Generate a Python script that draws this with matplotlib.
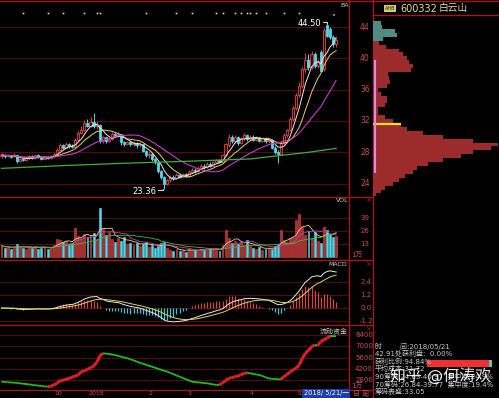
import numpy as np
import pandas as pd
import matplotlib
matplotlib.use("Agg")
import matplotlib.pyplot as plt
from matplotlib.collections import LineCollection
from matplotlib.transforms import blended_transform_factory as blend

plt.rcParams['font.family'] = ['DejaVu Sans', 'Noto Sans CJK SC']

# ---------------- data ----------------
open_ = [27.5, 27.7, 27.5, 27.6, 27.5, 27.6, 26.9, 27.1, 27.0, 27.3,
         27.5, 27.3, 27.6, 27.4, 27.2, 27.4, 27.3, 27.5, 27.8, 28.3,
         28.9, 28.6, 29.0, 28.8, 28.7, 29.6, 30.5, 30.9, 31.8, 31.4,
         31.9, 31.3, 31.5, 29.4, 29.9, 29.5, 29.7, 30.4, 30.1, 30.3,
         29.3, 29.1, 29.3, 29.0, 29.2, 28.9, 29.0, 28.2, 27.6, 27.8,
         27.1, 26.8, 25.6, 24.9, 23.9, 24.4, 24.9, 24.7, 25.1, 24.9,
         25.2, 25.0, 25.5, 25.8, 25.6, 26.0, 26.3, 26.1, 26.5, 26.3,
         26.7, 27.0, 26.8, 27.6, 28.9, 30.0, 29.4, 29.9, 29.2, 29.8,
         30.2, 29.7, 30.0, 29.6, 29.9, 29.5, 29.8, 29.4, 29.6, 28.6,
         28.0, 27.8, 29.2, 30.2, 30.8, 32.2, 33.6, 35.3, 36.5, 38.6,
         39.8, 38.9, 40.6, 39.0, 40.8, 38.6, 44.2, 43.8, 42.7, 41.8]
close = [27.7, 27.5, 27.6, 27.4, 27.7, 26.9, 27.2, 27.0, 27.3, 27.5,
         27.3, 27.6, 27.4, 27.2, 27.4, 27.3, 27.5, 27.8, 28.3, 28.9,
         28.6, 29.0, 28.8, 28.7, 29.6, 30.5, 30.9, 31.8, 31.4, 31.9,
         31.3, 31.6, 29.4, 29.9, 29.5, 29.7, 30.4, 30.1, 30.4, 29.3,
         29.1, 29.3, 29.0, 29.2, 28.9, 29.1, 28.2, 27.6, 27.8, 27.1,
         26.8, 25.6, 24.9, 23.9, 24.4, 24.9, 24.7, 25.1, 24.9, 25.2,
         25.0, 25.5, 25.8, 25.6, 26.0, 26.3, 26.1, 26.5, 26.3, 26.7,
         27.0, 26.8, 27.6, 29.0, 30.0, 29.4, 29.9, 29.2, 29.8, 30.2,
         29.7, 30.0, 29.6, 29.9, 29.5, 29.8, 29.4, 29.6, 28.6, 28.0,
         27.8, 29.2, 30.2, 30.8, 32.2, 33.6, 35.3, 36.5, 38.6, 39.8,
         38.9, 40.6, 39.0, 39.6, 38.4, 43.6, 42.9, 42.7, 41.8, 42.3]
high = [27.9, 27.8, 27.8, 27.7, 27.9, 27.6, 27.3, 27.3, 27.4, 27.6,
        27.6, 27.7, 27.8, 27.5, 27.5, 27.5, 27.6, 27.9, 28.5, 29.2,
        29.1, 29.3, 29.2, 29.0, 29.8, 30.7, 31.3, 32.1, 32.2, 32.5,
        33.0, 32.0, 31.6, 30.1, 30.0, 29.9, 30.6, 30.6, 30.6, 30.4,
        29.5, 29.5, 29.4, 29.4, 29.3, 29.3, 29.1, 28.3, 28.0, 27.9,
        27.3, 26.9, 25.8, 25.0, 24.6, 25.1, 25.1, 25.3, 25.3, 25.4,
        25.3, 25.7, 26.0, 26.0, 26.2, 26.5, 26.5, 26.7, 26.7, 26.9,
        27.2, 27.2, 27.8, 29.2, 30.3, 30.2, 30.2, 30.1, 30.0, 30.5,
        30.4, 30.2, 30.2, 30.1, 30.0, 30.0, 29.9, 29.8, 29.7, 28.8,
        28.3, 29.4, 30.5, 31.0, 32.5, 33.9, 35.6, 37.0, 38.9, 40.7,
        40.5, 40.9, 40.8, 39.9, 41.1, 43.9, 44.5, 44.0, 43.0, 42.6]
low = [27.3, 27.3, 27.4, 27.3, 27.4, 26.6, 26.8, 26.9, 26.9, 27.2,
       27.2, 27.2, 27.3, 27.0, 27.1, 27.2, 27.2, 27.4, 27.7, 28.2,
       28.4, 28.5, 28.6, 28.5, 28.6, 29.5, 30.3, 30.7, 31.2, 31.2,
       31.1, 31.0, 29.2, 29.2, 29.2, 29.3, 29.6, 29.9, 29.9, 28.9,
       28.8, 28.9, 28.8, 28.8, 28.6, 28.7, 28.0, 27.4, 27.3, 26.9,
       26.5, 25.3, 24.6, 23.36, 23.8, 24.2, 24.5, 24.6, 24.7, 24.8,
       24.8, 24.9, 25.3, 25.4, 25.5, 25.9, 25.9, 26.0, 26.1, 26.2,
       26.6, 26.6, 26.7, 27.5, 28.7, 29.2, 29.2, 28.9, 29.0, 29.6,
       29.5, 29.5, 29.4, 29.4, 29.3, 29.3, 29.2, 29.2, 28.4, 27.8,
       26.6, 27.7, 29.0, 30.0, 30.7, 32.0, 33.4, 35.0, 36.2, 38.3,
       38.5, 38.7, 38.8, 38.8, 38.2, 38.4, 42.7, 42.5, 41.5, 41.4]

# long moving average (green) read at a few candles
long_idx = [0, 20, 40, 60, 81, 91, 100, 109]
long_val = [25.95, 26.3, 26.6, 26.85, 27.15, 27.6, 28.0, 28.5]

volume = [11, 9, 10, 8, 9, 13, 10, 9, 8, 10,
          9, 11, 8, 9, 10, 8, 9, 12,
          18, 17, 15, 16, 13, 14, 29, 21, 19, 23,
          20, 22, 24, 18, 49, 28, 22, 25,
          18, 15, 19, 16, 20, 13, 14,
          12, 14, 11, 13, 15, 10, 12, 9, 11, 14, 15,
          9, 7, 6, 8, 6, 7, 5, 8, 6, 7, 6, 8, 7, 6, 8, 7, 9, 6,
          12, 27, 19, 14, 16, 13, 15, 12, 17, 11,
          9, 8, 10, 7, 8, 9, 8, 11, 12,
          27, 17, 15, 19, 20,
          37, 43, 30, 22, 26, 19,
          25, 16, 14,
          30, 27, 22, 20, 21]

fund = [2590, 2560, 2530, 2500, 2470, 2440, 2390, 2350, 2300, 2250,
        2200, 2150, 2100, 2056, 2010, 1970, 2000, 2180, 2390, 2680,
        2780, 2890, 3000, 3150, 3300, 3424, 3835, 3950, 4133, 4300,
        4544, 4954, 5788, 6124, 6080, 6036, 5980, 5912, 5800, 5700,
        5600, 5501, 5380, 5250, 5100, 4954, 4830, 4700, 4580, 4456,
        4330, 4200, 4080, 3950, 3835, 3680, 3530, 3370, 3213, 3060,
        2900, 2750, 2590, 2550, 2510, 2470, 2430, 2390, 2320, 2250,
        2200, 2180, 2466, 2700, 3013, 3100, 3200, 3300, 3450, 3636,
        3700, 3636, 3560, 3490, 3424, 3300, 3150, 3013, 2960, 2920,
        2900, 2890, 3213, 3500, 3800, 4046, 4300, 4668, 5501, 6124,
        6500, 6945, 7156, 7100, 7567, 7800, 7990, 8276, 8260, 8250]

chip_price = [44.5, 44.0, 43.5, 43.0, 42.5, 42.0, 41.5, 41.0, 40.5, 40.0,
              39.5, 39.0, 38.5, 38.0, 37.5, 37.0, 36.5, 36.0, 35.5, 35.0,
              34.5, 34.0, 33.5, 33.0, 32.5, 32.0, 31.5, 31.0, 30.5, 30.0,
              29.5, 29.0, 28.5, 28.0, 27.5, 27.0, 26.5, 26.0, 25.5, 25.0,
              24.5, 24.0, 23.5, 23.0, 22.5]
chip_len = [8, 9, 22, 24, 10, 6, 13, 26, 30, 34,
            36, 40, 38, 15, 16, 17, 14, 5, 8, 14,
            14, 12, 5, 5, 12, 20, 28, 34, 50, 70,
            100, 125, 118, 100, 88, 70, 55, 44, 40, 32,
            26, 20, 12, 8, 3]

mine_idx = [7, 15, 20, 27, 31, 32, 47, 57, 62, 70, 72, 76, 78, 80, 81, 83, 86, 92, 97]
month_idx = [18.4, 31, 48.4, 61.4, 81.6, 97.2]
month_lbl = ['10', '2018', '2', '3', '4', '5']
price_ticks = [44, 40, 36, 32, 28, 24]
vol_ticks = [39, 26, 13]
macd_ticks = [2.4, 1.2, 0.0, -1.2]
fund_ticks = [8400, 7000, 5600, 4200, 2800]
info_lines = ['时        间:2018/05/21', '42.91处获利盘:  0.00%', '获利比例:94.84%',
              '平均成本:31.72', '90筹码:24.63-40.97  集中度:24.9%',
              '70筹码:26.84-39.77  集中度:19.4%', '筹码表盛:33.05']

# ---------------- styling ----------------
W, H = 499, 398
BORDER = '#a01818'
GRID = '#5a0c0c'
LBL = '#d04a4a'
UP = '#e04444'
DOWN = '#55d6e6'


def box(x0, y0, x1, y1):
    return [x0 / W, 1 - y1 / H, (x1 - x0) / W, (y1 - y0) / H]


def panel(rect, ylim):
    ax = fig.add_axes(box(*rect))
    ax.set_facecolor('none')
    ax.set_xlim(-0.49, 113.2)
    ax.set_ylim(*ylim)
    ax.axis('off')
    return ax


def ftext(x, y, s, **kw):
    fig.text(x / W, 1 - y / H, s, **kw)


fig = plt.figure(figsize=(W / 100, H / 100), dpi=100, facecolor='black')

# overlay in pixel coordinates for frame lines
bg = fig.add_axes([0, 0, 1, 1], zorder=-1)
bg.set_xlim(0, W)
bg.set_ylim(H, 0)
bg.axis('off')
for y, x1 in [(1, W), (196.5, 373), (260, 373), (325, 373), (390, 373)]:
    bg.plot([0, x1], [y, y], color=BORDER, lw=1)
bg.plot([373, W], [15, 15], color=BORDER, lw=1)
bg.plot([349.5, 349.5], [0, 390], color=BORDER, lw=1)
bg.plot([373, 373], [0, H], color=BORDER, lw=1)

idx = np.arange(len(close))
o = np.array(open_)
c = np.array(close)
up = c >= o
col = np.where(up, UP, DOWN)

# ---------------- main price panel ----------------
ax = panel((0, 1, 349, 196), (22.42, 47.32))
for p in price_ticks:
    ax.axhline(p, color=GRID, lw=0.7, zorder=0)
ax.vlines(idx, low, high, colors=col, lw=0.7, zorder=2)
body = np.maximum(np.abs(c - o), 0.06)
ax.bar(idx, body, bottom=np.minimum(o, c), width=0.72,
       color=np.where(up, '#300808', DOWN), edgecolor=col, lw=0.6, zorder=3)
cs = pd.Series(c)
ax.plot(idx, cs.rolling(5, min_periods=1).mean(), color='#e8e8e8', lw=0.7, zorder=4)
ax.plot(idx, cs.rolling(10, min_periods=1).mean(), color='#e2d25a', lw=0.7, zorder=4)
ax.plot(idx, cs.rolling(20, min_periods=1).mean(), color='#c43cc4', lw=0.8, zorder=4)
ax.plot(long_idx, long_val, color='#3fae3f', lw=0.9, zorder=4)
ax.plot(mine_idx, [45.8] * len(mine_idx), 's', color='#d8d8d8', ms=1.2, mew=0)
ax.plot([108.3], [45.5], 's', color='#d040d0', ms=1.5, mew=0)
ax.text(104.3, 44.5, '44.50', color='white', fontsize=6, ha='right', va='center')
ax.plot([104.6, 106, 106], [44.7, 44.7, 44.5], color='white', lw=0.6)
ax.text(50.6, 23.05, '23.36', color='white', fontsize=6, ha='right', va='center')
ax.plot([51, 52.6, 52.6], [23.2, 23.2, 23.36], color='white', lw=0.6)
tr = blend(ax.transAxes, ax.transData)
for p in price_ticks:
    ax.text(365 / 349, p, str(p), transform=tr, color=LBL, fontsize=5.5,
            ha='center', va='center', clip_on=False)
ax.text(345 / 349, 0.975, 'BA', transform=ax.transAxes, color='#cccccc',
        fontsize=4.5, ha='center', va='center')

# ---------------- chip distribution ----------------
axc = fig.add_axes(box(373, 1, 499, 196))
axc.set_facecolor('none')
axc.set_xlim(0, 126)
axc.set_ylim(22.42, 47.32)
axc.axis('off')
chip_col = ['#4f8c84' if p > 42.4 else '#9c2b2b' for p in chip_price]
axc.barh(chip_price, chip_len, height=0.5, color=chip_col, lw=0)
axc.hlines(31.6, 0, 28, color='#f0e020', lw=1.6)
axc.vlines(2, 25.3, 39.8, color='#e088e0', lw=1.5)
ftext(390, 8.5, 'AHB', color='#222200', fontsize=3.5, ha='center', va='center',
      bbox=dict(boxstyle='square,pad=0.15', fc='#d8cc70', ec='none'))
ftext(400, 8.5, '600332', color='#e8dc8c', fontsize=7, ha='left', va='center')
ftext(439, 8.5, '白云山', color='#e8dc8c', fontsize=7, ha='left', va='center')

# ---------------- volume ----------------
axv = panel((0, 197, 349, 260), (-3.3, 59.7))
for v in vol_ticks:
    axv.axhline(v, color=GRID, lw=0.7, zorder=0)
axv.bar(idx, volume, width=0.62, color=np.where(up, '#a83030', DOWN),
        edgecolor=col, lw=0.4)
vs = pd.Series(volume, dtype=float)
axv.plot(idx, vs.rolling(5, min_periods=1).mean(), color='#e6d47a', lw=0.6)
axv.plot(idx, vs.rolling(10, min_periods=1).mean(), color='#c43cc4', lw=0.6)
axv.plot(idx, vs.rolling(20, min_periods=1).mean(), color='#3fbf3f', lw=0.6)
tr = blend(axv.transAxes, axv.transData)
for v in vol_ticks:
    axv.text(365 / 349, v, str(v), transform=tr, color=LBL, fontsize=5,
             ha='center', va='center', clip_on=False)
ftext(342, 200.5, 'VOL', color='#cccccc', fontsize=4.5, ha='center', va='center')
ftext(351, 255, '1万', color=LBL, fontsize=5, ha='left', va='center')

# ---------------- MACD ----------------
axm = panel((0, 260, 349, 325), (-1.57, 4.43))
for v in macd_ticks:
    axm.axhline(v, color=GRID, lw=0.7, zorder=0)
ema12 = cs.ewm(span=12, adjust=False).mean()
ema26 = cs.ewm(span=26, adjust=False).mean()
dif = ema12 - ema26
dea = dif.ewm(span=9, adjust=False).mean()
hist = 2 * (dif - dea)
axm.vlines(idx, 0, hist, colors=np.where(hist >= 0, '#d04545', '#45c4d4'), lw=0.9)
axm.plot(idx, dif, color='#e8e8e8', lw=0.7)
axm.plot(idx, dea, color='#e2d25a', lw=0.7)
tr = blend(axm.transAxes, axm.transData)
for v in macd_ticks:
    axm.text(366 / 349, v, f'{v:.1f}', transform=tr, color=LBL, fontsize=5,
             ha='center', va='center', clip_on=False)
ftext(338, 265, 'MACD', color='#cccccc', fontsize=4.5, ha='center', va='center')

# ---------------- fund flow ----------------
axf = panel((0, 325, 349, 390), (1558, 9644))
for v in fund_ticks:
    axf.axhline(v, color=GRID, lw=0.7, zorder=0)
f = np.array(fund, dtype=float)
pts = np.column_stack([idx, f])
segs = np.stack([pts[:-1], pts[1:]], axis=1)
rising = np.diff(f) > 0
axf.add_collection(LineCollection(segs, colors=np.where(rising, '#e02020', '#22c022'),
                                  linewidths=np.where(rising, 2.2, 1.3)))
tr = blend(axf.transAxes, axf.transData)
for v in fund_ticks:
    axf.text(364 / 349, v, str(v), transform=tr, color=LBL, fontsize=5,
             ha='center', va='center', clip_on=False)
ftext(334, 331, '流动资金', color='#cccccc', fontsize=5, ha='center', va='center')
ftext(351, 386, '1万', color=LBL, fontsize=5, ha='left', va='center')
trx = blend(axf.transData, axf.transAxes)
for i, s in zip(month_idx, month_lbl):
    axf.text(i, -0.05, s, transform=trx, color=LBL, fontsize=4.5,
             ha='center', va='center', clip_on=False)
ftext(326, 393.5, '2018/ 5/21/一', color='white', fontsize=4.8, ha='center', va='center',
      bbox=dict(boxstyle='square,pad=0.25', fc='#1c3ca8', ec='none'))
ftext(361, 393.5, '日 周', color=LBL, fontsize=5, ha='center', va='center')

for y in (200, 264, 329):
    ftext(368, y, '×', color='#8a3030', fontsize=5, ha='center', va='center')

# ---------------- chip info text ----------------
for k, s in enumerate(info_lines):
    ftext(375, 346 + 7.6 * k, s, color='#c8c8c8', fontsize=5, ha='left', va='center')
bg.add_patch(plt.Rectangle((427, 360), 62, 7, color='#ee3030', lw=0))
bg.add_patch(plt.Rectangle((489, 360), 3, 7, color='#70c0b0', lw=0))
ftext(441, 376, '知乎 @何涛欢', color='white', alpha=0.9, fontsize=11.5,
      ha='center', va='center')

fig.savefig('out.png', dpi=100, facecolor='black')
